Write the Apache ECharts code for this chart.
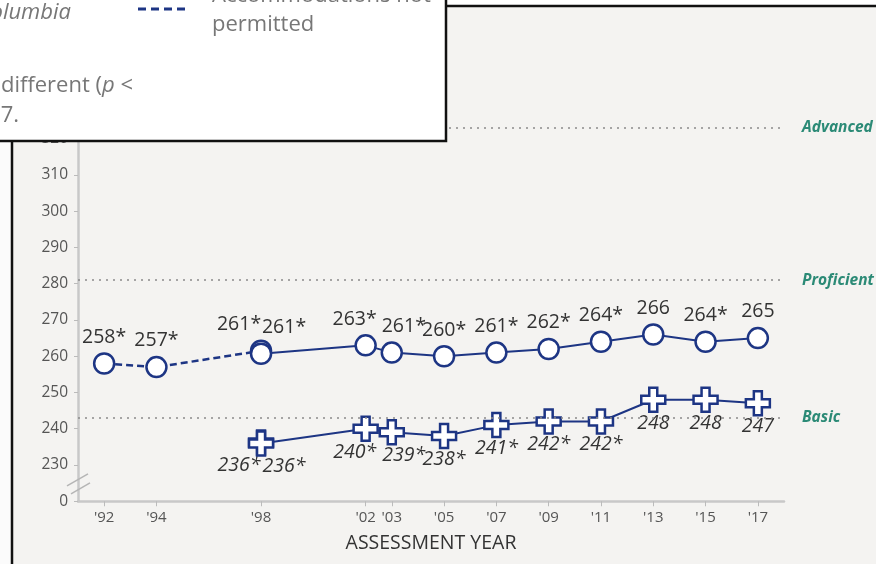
<!DOCTYPE html>
<html>
<head>
<meta charset="utf-8">
<script src="https://cdn.jsdelivr.net/npm/echarts@6.0.0/dist/echarts.min.js"></script>
<style>
  html, body { margin: 0; padding: 0; background: #fff; }
  #chart { width: 876px; height: 564px; }
</style>
</head>
<body>
<div id="chart"></div>
<script>
// assessment years shown on the x axis
const years = [1992, 1994, 1998, 2002, 2003, 2005, 2007, 2009, 2011, 2013, 2015, 2017];
const yearLabels = ["'92", "'94", "'98", "'02", "'03", "'05", "'07", "'09", "'11", "'13", "'15", "'17"];

// Nation (public), accommodations not permitted
const nationNpYears = [1992, 1994, 1998];
const nationNpScores = [258, 257, 261.5];
const nationNpLabels = ['258*', '257*', '261*'];

// Nation (public), accommodations permitted
const nationYears = [1998, 2002, 2003, 2005, 2007, 2009, 2011, 2013, 2015, 2017];
const nationScores = [260.7, 263, 261, 260, 261, 262, 264, 266, 264, 265];
const nationLabels = ['261*', '263*', '261*', '260*', '261*', '262*', '264*', '266', '264*', '265'];

// District of Columbia, accommodations not permitted
const dcNpYears = [1998];
const dcNpScores = [236.2];
const dcNpLabels = ['236*'];

// District of Columbia, accommodations permitted
const dcYears = [1998, 2002, 2003, 2005, 2007, 2009, 2011, 2013, 2015, 2017];
const dcScores = [235.9, 240, 239, 238, 241, 242, 242, 248, 248, 247];
const dcLabels = ['236*', '240*', '239*', '238*', '241*', '242*', '242*', '248', '248', '247'];

// achievement level cut scores
const levelNames = ['Advanced', 'Proficient', 'Basic'];
const levelScores = [323, 281, 243];

const yTickValues = [220, 230, 240, 250, 260, 270, 280, 290, 300, 310, 320];

const NAVY = '#1d3584';
const FONT = 'Open Sans';

// label nudges so neighbouring labels don't collide
const npOffset = { 1998: [-22, 0] };
const pOffset = { 1998: [23, 0], 2002: [-11, 0], 2003: [12, 0] };

const plusPath = 'path://M8,0H16V8H24V16H16V24H8V16H0V8H8Z';

function points(xs, ys, labels, offsets) {
  return xs.map((x, i) => ({
    value: [x, ys[i]],
    name: labels[i],
    label: { offset: offsets[x] || [0, 0] },
  }));
}

const topLabel = {
  show: true, position: 'top', distance: 5, formatter: '{b}',
  color: '#333', fontSize: 19.5, fontFamily: FONT,
};
const bottomLabel = {
  show: true, position: 'bottom', distance: 0, formatter: '{b}',
  color: '#333', fontSize: 19.5, fontFamily: FONT, fontStyle: 'italic',
};
const circleStyle = { color: '#fff', borderColor: NAVY, borderWidth: 2.5 };

const chart = echarts.init(document.getElementById('chart'), null, { renderer: 'canvas' });

const option = {
  backgroundColor: '#f4f3f1',
  animation: false,
  grid: { left: 78, right: 92, top: 120.6, bottom: 62.75 },
  xAxis: {
    type: 'value',
    min: 1991,
    max: 2018,
    name: 'ASSESSMENT YEAR',
    nameLocation: 'middle',
    nameGap: 32,
    nameTextStyle: { color: '#333', fontSize: 19.5, fontFamily: FONT },
    axisLine: { lineStyle: { color: '#c8c8c8', width: 2.5 } },
    axisTick: { customValues: years, length: 5, lineStyle: { color: '#bbb' } },
    axisLabel: {
      customValues: years,
      color: '#555', fontSize: 15, fontFamily: FONT, margin: 9,
      formatter: (v) => yearLabels[years.indexOf(v)] || '',
    },
    splitLine: { show: false },
  },
  yAxis: {
    type: 'value',
    min: 220,
    max: 325,
    interval: 10,
    axisLine: { show: true, lineStyle: { color: '#c8c8c8', width: 2.5 } },
    axisTick: { show: true, customValues: yTickValues, length: 4, lineStyle: { color: '#bbb' } },
    axisLabel: {
      customValues: yTickValues,
      color: '#555', fontSize: 15.5, fontFamily: FONT, margin: 10,
      formatter: (v) => (v === 220 ? '0' : String(v)),
    },
    splitLine: { show: false },
  },
  series: [
    {
      type: 'line',
      name: 'levels',
      data: [],
      markLine: {
        silent: true,
        symbol: 'none',
        lineStyle: { color: '#8a8a8a', type: [2, 5], width: 1.5 },
        label: {
          position: 'end', distance: 18, formatter: '{b}',
          color: '#2b8a76', fontSize: 15.5, fontStyle: 'italic', fontWeight: 'bold', fontFamily: FONT,
        },
        data: levelNames.map((n, i) => ({ name: n, yAxis: levelScores[i] })),
      },
    },
    {
      type: 'line',
      name: 'Nation not permitted',
      data: points(nationNpYears, nationNpScores, nationNpLabels, npOffset),
      symbol: 'circle',
      symbolSize: 20,
      lineStyle: { color: NAVY, width: 2.5, type: [7, 4] },
      itemStyle: circleStyle,
      label: topLabel,
      z: 3,
    },
    {
      type: 'line',
      name: 'Nation',
      data: points(nationYears, nationScores, nationLabels, pOffset),
      symbol: 'circle',
      symbolSize: 20,
      lineStyle: { color: NAVY, width: 2 },
      itemStyle: circleStyle,
      label: topLabel,
      z: 4,
    },
    {
      type: 'line',
      name: 'DC not permitted',
      data: points(dcNpYears, dcNpScores, dcNpLabels, npOffset),
      symbol: plusPath,
      symbolSize: 24,
      lineStyle: { color: NAVY, width: 2.5, type: [7, 4] },
      itemStyle: circleStyle,
      label: bottomLabel,
      z: 3,
    },
    {
      type: 'line',
      name: 'DC',
      data: points(dcYears, dcScores, dcLabels, pOffset),
      symbol: plusPath,
      symbolSize: 24,
      lineStyle: { color: NAVY, width: 2 },
      itemStyle: circleStyle,
      label: bottomLabel,
      z: 4,
    },
  ],
};

chart.setOption(option);

// axis break marks, legend panel and frame drawn on top
const bx = chart.convertToPixel({ xAxisIndex: 0 }, 1991);
const by = chart.convertToPixel({ yAxisIndex: 0 }, 224.8);
const greyText = { fontSize: 22, fontFamily: FONT, fill: '#777' };

chart.setOption({
  graphic: [
    { type: 'line', shape: { x1: bx - 11, y1: by + 2, x2: bx + 10, y2: by - 10 }, style: { stroke: '#b5b5b5', lineWidth: 1.5 }, z: 50 },
    { type: 'line', shape: { x1: bx - 7, y1: by + 10, x2: bx + 12, y2: by - 1 }, style: { stroke: '#b5b5b5', lineWidth: 1.5 }, z: 50 },
    // white margins around the panel
    { type: 'rect', shape: { x: 0, y: 0, width: 11, height: 564 }, style: { fill: '#fbfbfb' }, z: 90 },
    { type: 'rect', shape: { x: 0, y: 0, width: 876, height: 5 }, style: { fill: '#fff' }, z: 90 },
    { type: 'line', shape: { x1: 12, y1: 5, x2: 12, y2: 564 }, style: { stroke: '#111', lineWidth: 2.5 }, z: 91 },
    { type: 'line', shape: { x1: 12, y1: 6, x2: 876, y2: 6 }, style: { stroke: '#111', lineWidth: 2.5 }, z: 91 },
    // legend box
    { type: 'rect', shape: { x: -10, y: -10, width: 456, height: 151 }, style: { fill: '#fff', stroke: '#111', lineWidth: 2.5 }, z: 100 },
    { type: 'text', x: 71, y: 13, style: Object.assign({ text: 'District of Columbia', align: 'right', verticalAlign: 'middle', fontStyle: 'italic' }, greyText), z: 101 },
    { type: 'line', shape: { x1: 138, y1: 9, x2: 186, y2: 9 }, style: { stroke: NAVY, lineWidth: 3, lineDash: [8, 5] }, z: 101 },
    { type: 'text', x: 212, y: -4, style: Object.assign({ text: 'Accommodations not', verticalAlign: 'middle' }, greyText), z: 101 },
    { type: 'text', x: 212, y: 25, style: Object.assign({ text: 'permitted', verticalAlign: 'middle' }, greyText), z: 101 },
    {
      type: 'text', x: 133, y: 86, z: 101,
      style: Object.assign({
        text: '* Significantly different ({i|p} <', align: 'right', verticalAlign: 'middle',
        rich: { i: { fontStyle: 'italic', fontSize: 22, fontFamily: FONT, fill: '#777' } },
      }, greyText),
    },
    { type: 'text', x: 19, y: 116, style: Object.assign({ text: '.05) from 2017.', align: 'right', verticalAlign: 'middle' }, greyText), z: 101 },
  ],
});
</script>
</body>
</html>
